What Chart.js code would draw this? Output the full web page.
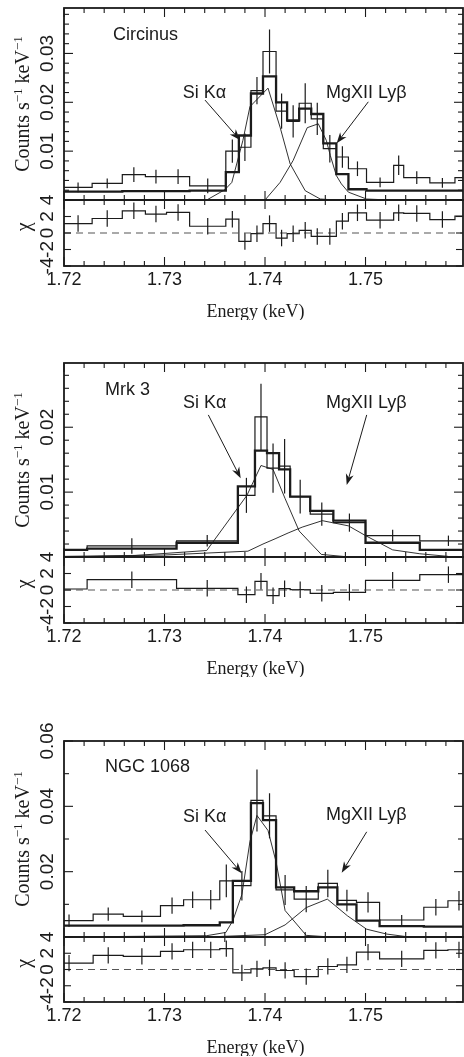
<!DOCTYPE html>
<html>
<head>
<meta charset="utf-8">
<script src="https://cdn.jsdelivr.net/npm/chart.js@4.4.1/dist/chart.umd.min.js"></script>
<style>
  html, body { margin: 0; padding: 0; background: #fff; overflow: hidden; }
  body { width: 464px; height: 1057px; position: relative; }
  canvas { position: absolute; left: 0; }
</style>
</head>
<body>
<canvas id="main1"></canvas><canvas id="res1"></canvas>
<canvas id="main2"></canvas><canvas id="res2"></canvas>
<canvas id="main3"></canvas><canvas id="res3"></canvas>
<script>
// energy axis (keV) and tick labels
const X_MIN = 1.72, X_MAX = 1.7597;
const xTickVals = [1.72, 1.73, 1.74, 1.75];
const xTickText = ['1.72', '1.73', '1.74', '1.75'];
const chiTickVals = [4, 2, 0, -2, -4];
const chiTickText = ['4', '2', '0', '-2', '-4'];
const CHI_ERR = 1;

// Circinus
const edges1 = [1.7200, 1.7228, 1.7258, 1.7281, 1.7302, 1.7325, 1.7361, 1.7374, 1.7386, 1.7398, 1.7411, 1.7422,
                1.7434, 1.7446, 1.7458, 1.7471, 1.7483, 1.7501, 1.7528, 1.7538, 1.7564, 1.7589, 1.7614];
const rate1  = [0.0026, 0.0034, 0.0052, 0.0048, 0.0048, 0.0029, 0.0100, 0.0108, 0.0224, 0.0304, 0.0182, 0.0161,
                0.0198, 0.0166, 0.0105, 0.0088, 0.0064, 0.0036, 0.0071, 0.0046, 0.0035, 0.0046];
const err1   = [0.0010, 0.0010, 0.0015, 0.0014, 0.0015, 0.0015, 0.0024, 0.0028, 0.0028, 0.0045, 0.0036, 0.0033,
                0.0041, 0.0033, 0.0028, 0.0022, 0.0015, 0.0010, 0.0020, 0.0013, 0.0010, 0.0013];
const model1 = [0.0017, 0.0017, 0.0018, 0.0018, 0.0018, 0.0019, 0.0057, 0.0132, 0.0218, 0.0253, 0.0200, 0.0163,
                0.0187, 0.0176, 0.0116, 0.0053, 0.0022, 0.0019, 0.0019, 0.0019, 0.0019, 0.0019];
const chi1   = [1.14, 1.76, 2.69, 2.29, 2.49, 0.82, 1.67, -1.02, -0.08, 1.14, -0.61, -0.08,
                0.33, -0.41, -0.41, 1.43, 2.45, 1.55, 2.45, 2.37, 1.63, 2.04];
const siE1 = [1.7342, 1.7360, 1.7367, 1.7378, 1.7385, 1.7403, 1.7415, 1.7425, 1.7440, 1.7455, 1.7470];
const siV1 = [0.0000, 0.0021, 0.0036, 0.0122, 0.0191, 0.0229, 0.0149, 0.0074, 0.0019, 0.0002, 0.0000];
const mgE1 = [1.7400, 1.7415, 1.7428, 1.7442, 1.7453, 1.7461, 1.7465, 1.7471, 1.7476, 1.7483, 1.7501, 1.7524];
const mgV1 = [0.0000, 0.0036, 0.0081, 0.0148, 0.0156, 0.0122, 0.0091, 0.0050, 0.0033, 0.0016, 0.0002, 0.0000];
const yTickVals1 = [0.01, 0.02, 0.03];
const yTickText1 = ['0.01', '0.02', '0.03'];

// Mrk 3
const edges2 = [1.7170, 1.7223, 1.7312, 1.7373, 1.7390, 1.7402, 1.7414, 1.7425, 1.7445, 1.7468, 1.7500, 1.7554, 1.7611];
const rate2  = [0.0011, 0.0017, 0.0025, 0.0095, 0.0216, 0.0137, 0.0140, 0.0093, 0.0066, 0.0053, 0.0033, 0.0025];
const err2   = [0.0008, 0.0012, 0.0009, 0.0027, 0.0051, 0.0038, 0.0042, 0.0026, 0.0018, 0.0014, 0.0009, 0.0008];
const model2 = [0.0011, 0.0013, 0.0022, 0.0109, 0.0164, 0.0160, 0.0135, 0.0093, 0.0071, 0.0056, 0.0022, 0.0011];
const chi2   = [0.12, 1.25, 0.20, -0.57, 1.05, -0.69, 0.16, 0.04, -0.40, -0.28, 1.17, 1.86];
const siE2 = [1.7200, 1.7268, 1.7342, 1.7382, 1.7396, 1.7408, 1.7420, 1.7434, 1.7456, 1.7484];
const siV2 = [0.0000, 0.0002, 0.0010, 0.0095, 0.0141, 0.0135, 0.0090, 0.0040, 0.0004, 0.0000];
const mgE2 = [1.7200, 1.7299, 1.7383, 1.7398, 1.7410, 1.7423, 1.7437, 1.7457, 1.7483, 1.7500, 1.7527, 1.7554, 1.7582];
const mgV2 = [0.0001, 0.0003, 0.0009, 0.0020, 0.0028, 0.0037, 0.0046, 0.0056, 0.0048, 0.0033, 0.0011, 0.0005, 0.0001];
const yTickVals2 = [0.01, 0.02];
const yTickText2 = ['0.01', '0.02'];

// NGC 1068
const edges3 = [1.7181, 1.7229, 1.7259, 1.7296, 1.7319, 1.7337, 1.7355, 1.7368, 1.7386, 1.7398, 1.7411, 1.7429,
                1.7453, 1.7472, 1.7491, 1.7514, 1.7558, 1.7582, 1.7604];
const rate3  = [0.0050, 0.0070, 0.0063, 0.0096, 0.0114, 0.0114, 0.0172, 0.0157, 0.0418, 0.0371, 0.0144, 0.0116,
                0.0164, 0.0112, 0.0106, 0.0052, 0.0091, 0.0111];
const err3   = [0.0019, 0.0020, 0.0018, 0.0025, 0.0025, 0.0030, 0.0050, 0.0045, 0.0095, 0.0069, 0.0046, 0.0040,
                0.0042, 0.0033, 0.0031, 0.0015, 0.0025, 0.0030];
const model3 = [0.0035, 0.0035, 0.0035, 0.0035, 0.0036, 0.0036, 0.0045, 0.0172, 0.0410, 0.0358, 0.0152, 0.0140,
                0.0152, 0.0100, 0.0050, 0.0033, 0.0032, 0.0032];
const chi3   = [0.78, 1.73, 1.61, 2.23, 2.43, 2.43, 2.56, -0.41, 0.08, 0.21, -0.12, -0.87,
                0.37, 0.58, 2.14, 1.32, 2.35, 2.43];
const siE3 = [1.7200, 1.7342, 1.7361, 1.7368, 1.7377, 1.7385, 1.7392, 1.7403, 1.7411, 1.7420, 1.7441, 1.7465];
const siV3 = [0.0000, 0.0004, 0.0014, 0.0050, 0.0130, 0.0292, 0.0372, 0.0326, 0.0230, 0.0081, 0.0005, 0.0000];
const mgE3 = [1.7342, 1.7400, 1.7420, 1.7441, 1.7462, 1.7482, 1.7501, 1.7521, 1.7541, 1.7597];
const mgV3 = [0.0000, 0.0007, 0.0037, 0.0090, 0.0116, 0.0065, 0.0024, 0.0009, 0.0001, 0.0000];
const yTickVals3 = [0.02, 0.04, 0.06];
const yTickText3 = ['0.02', '0.04', '0.06'];

const INK = '#1b1b1b';
const SANS = '"Liberation Sans", Arial, Helvetica, sans-serif';
const SERIF = '"Liberation Serif", "Times New Roman", serif';

// layout of the three panels (pixels) and label placement (data coords)
const panels = [
  { id: 1, mainTop: 8, mainBot: 200, resBot: 266, yMax: 0.0393, yMinor: 0.002, yMajor: 0.01,
    edges: edges1, rate: rate1, err: err1, model: model1, chi: chi1,
    si: [siE1, siV1], mg: [mgE1, mgV1], yt: [yTickVals1, yTickText1],
    name: ['Circinus', 1.72488, 0.0337],
    siLab: [1.73181, 0.0219], mgLab: [1.74607, 0.0219],
    siArrow: [1.73403, 0.02045, 1.73751, 0.01227], mgArrow: [1.75028, 0.0201, 1.74713, 0.0116] },
  { id: 2, mainTop: 363, mainBot: 557, resBot: 623, yMax: 0.0299, yMinor: 0.002, yMajor: 0.01,
    edges: edges2, rate: rate2, err: err2, model: model2, chi: chi2,
    si: [siE2, siV2], mg: [mgE2, mgV2], yt: [yTickVals2, yTickText2],
    name: ['Mrk 3', 1.72408, 0.02575],
    siLab: [1.73184, 0.02375], mgLab: [1.74607, 0.02375],
    siArrow: [1.73436, 0.0219, 1.73758, 0.01214], mgArrow: [1.75012, 0.0219, 1.74813, 0.0111] },
  { id: 3, mainTop: 741, mainBot: 937, resBot: 1002, yMax: 0.06, yMinor: 0.01, yMajor: 0.02,
    edges: edges3, rate: rate3, err: err3, model: model3, chi: chi3,
    si: [siE3, siV3], mg: [mgE3, mgV3], yt: [yTickVals3, yTickText3],
    name: ['NGC 1068', 1.72408, 0.0520],
    siLab: [1.73184, 0.0367], mgLab: [1.74607, 0.0373],
    siArrow: [1.73403, 0.03275, 1.73768, 0.0195], mgArrow: [1.75012, 0.0322, 1.74763, 0.0197] }
];

function stepPoints(edges, vals) {
  // a point at each lower bin edge plus the last upper edge; drawn with stepped 'before'
  const pts = vals.map((v, i) => ({ x: edges[i], y: v }));
  pts.push({ x: edges[edges.length - 1], y: vals[vals.length - 1] });
  return pts;
}
function linePoints(es, vs) {
  return es.map((e, i) => ({ x: e, y: vs[i] }));
}
function eachStep(min, max, step, major, fn) {
  for (let k = Math.ceil(min / step - 1e-6); k * step <= max + 1e-9; k++) {
    const v = k * step;
    const r = v / major;
    fn(v, Math.abs(r - Math.round(r)) < 1e-6);
  }
}
function rotatedRuns(ctx, x, y, runs) {
  ctx.save();
  ctx.translate(x, y);
  ctx.rotate(-Math.PI / 2);
  let total = 0;
  runs.forEach(r => { ctx.font = r.font; r.w = ctx.measureText(r.text).width; total += r.w; });
  let cx = -total / 2;
  ctx.textAlign = 'left';
  ctx.textBaseline = 'alphabetic';
  runs.forEach(r => { ctx.font = r.font; ctx.fillText(r.text, cx, -r.rise); cx += r.w; });
  ctx.restore();
}
function arrow(ctx, x1, y1, x2, y2) {
  const a = Math.atan2(y2 - y1, x2 - x1), c = Math.cos(a), s = Math.sin(a);
  const L = 11, W = 4;
  ctx.lineWidth = 1;
  ctx.beginPath();
  ctx.moveTo(x1, y1);
  ctx.lineTo(x2 - 0.7 * L * c, y2 - 0.7 * L * s);
  ctx.stroke();
  ctx.beginPath();
  ctx.moveTo(x2, y2);
  ctx.lineTo(x2 - L * c + W * s, y2 - L * s - W * c);
  ctx.lineTo(x2 - 0.7 * L * c, y2 - 0.7 * L * s);
  ctx.lineTo(x2 - L * c - W * s, y2 - L * s + W * c);
  ctx.closePath();
  ctx.fill();
}

function decor(cfg) {
  return {
    id: 'decor',
    afterDatasetsDraw(chart) {
      const ctx = chart.ctx;
      const xs = chart.scales.x, ys = chart.scales.y;
      const { left, right, top, bottom } = chart.chartArea;
      ctx.save();
      ctx.strokeStyle = INK;
      ctx.fillStyle = INK;

      // vertical error bars at bin centres
      ctx.save();
      ctx.beginPath();
      ctx.rect(left, top, right - left, bottom - top);
      ctx.clip();
      ctx.lineWidth = 1.2;
      cfg.vals.forEach((v, i) => {
        const e = Array.isArray(cfg.errs) ? cfg.errs[i] : cfg.errs;
        const px = xs.getPixelForValue((cfg.edges[i] + cfg.edges[i + 1]) / 2);
        ctx.beginPath();
        ctx.moveTo(px, ys.getPixelForValue(v - e));
        ctx.lineTo(px, ys.getPixelForValue(v + e));
        ctx.stroke();
      });
      ctx.restore();

      // inward ticks
      const seg = (a, b, c, d) => { ctx.beginPath(); ctx.moveTo(a, b); ctx.lineTo(c, d); ctx.stroke(); };
      ctx.lineWidth = 1.1;
      eachStep(X_MIN, X_MAX, 0.002, 0.01, (v, major) => {
        const px = xs.getPixelForValue(v), len = major ? 9 : 5;
        seg(px, top, px, top + len);
        seg(px, bottom, px, bottom - len);
      });
      eachStep(ys.min, ys.max, cfg.yMinor, cfg.yMajor, (v, major) => {
        const py = ys.getPixelForValue(v), len = major ? cfg.majLen : 5;
        seg(left, py, left + len, py);
        seg(right, py, right - len, py);
      });

      // frame
      ctx.lineWidth = 1.8;
      ctx.strokeRect(left, top, right - left, bottom - top);

      // rotated y tick labels
      ctx.font = '19px ' + SANS;
      ctx.textAlign = 'center';
      ctx.textBaseline = 'alphabetic';
      cfg.yTickVals.forEach((v, i) => {
        ctx.save();
        ctx.translate(left - 11, ys.getPixelForValue(v));
        ctx.rotate(-Math.PI / 2);
        ctx.fillText(cfg.yTickText[i], 0, 0);
        ctx.restore();
      });

      if (cfg.kind === 'main') {
        rotatedRuns(ctx, 29, (top + bottom) / 2, [
          { text: 'Counts s', font: '20px ' + SERIF, rise: 0 },
          { text: '\u22121', font: '13px ' + SERIF, rise: 7 },
          { text: ' keV', font: '20px ' + SERIF, rise: 0 },
          { text: '\u22121', font: '13px ' + SERIF, rise: 7 }
        ]);
        const p = cfg.panel;
        ctx.font = '18px ' + SANS;
        ctx.textAlign = 'left';
        ctx.textBaseline = 'middle';
        ctx.fillText(p.name[0], xs.getPixelForValue(p.name[1]), ys.getPixelForValue(p.name[2]));
        ctx.fillText('Si K\u03b1', xs.getPixelForValue(p.siLab[0]), ys.getPixelForValue(p.siLab[1]));
        ctx.fillText('MgXII Ly\u03b2', xs.getPixelForValue(p.mgLab[0]), ys.getPixelForValue(p.mgLab[1]));
        [p.siArrow, p.mgArrow].forEach(a => arrow(ctx,
          xs.getPixelForValue(a[0]), ys.getPixelForValue(a[1]),
          xs.getPixelForValue(a[2]), ys.getPixelForValue(a[3])));
      } else {
        rotatedRuns(ctx, 30, ys.getPixelForValue(0.75), [
          { text: '\u03c7', font: '20px ' + SERIF, rise: 0 }
        ]);
        ctx.font = '18px ' + SANS;
        ctx.textAlign = 'center';
        ctx.textBaseline = 'middle';
        xTickVals.forEach((v, i) => ctx.fillText(xTickText[i], xs.getPixelForValue(v), bottom + 14));
        ctx.font = '18px ' + SERIF;
        ctx.fillText('Energy (keV)', (left + right) / 2 - 8, bottom + 46);
      }
      ctx.restore();
    }
  };
}

function place(id, top, height) {
  const c = document.getElementById(id);
  c.width = 464;
  c.height = height;
  c.style.top = top + 'px';
  return c;
}

const common = {
  responsive: false,
  animation: false,
  events: [],
  plugins: { legend: { display: false }, tooltip: { enabled: false } }
};

panels.forEach(p => {
  const padTop = 24, padBot = 12;
  const mainCanvas = place('main' + p.id, p.mainTop - padTop, p.mainBot - p.mainTop + padTop + padBot);
  new Chart(mainCanvas, {
    type: 'line',
    data: {
      datasets: [
        { data: stepPoints(p.edges, p.model), stepped: 'before', borderColor: INK, borderWidth: 2.3, pointRadius: 0 },
        { data: stepPoints(p.edges, p.rate), stepped: 'before', borderColor: INK, borderWidth: 1.2, pointRadius: 0 },
        { data: linePoints(p.si[0], p.si[1]), borderColor: INK, borderWidth: 0.9, pointRadius: 0, tension: 0 },
        { data: linePoints(p.mg[0], p.mg[1]), borderColor: INK, borderWidth: 0.9, pointRadius: 0, tension: 0 }
      ]
    },
    options: Object.assign({}, common, {
      layout: { padding: { left: 64, right: 1, top: padTop, bottom: padBot } },
      scales: {
        x: { type: 'linear', min: X_MIN, max: X_MAX, display: false },
        y: { type: 'linear', min: 0, max: p.yMax, display: false }
      }
    }),
    plugins: [decor({ kind: 'main', panel: p, edges: p.edges, vals: p.rate, errs: p.err,
      yMinor: p.yMinor, yMajor: p.yMajor, majLen: 9, yTickVals: p.yt[0], yTickText: p.yt[1] })]
  });

  const rTop = 14, rBot = 54;
  const resCanvas = place('res' + p.id, p.mainBot - rTop, p.resBot - p.mainBot + rTop + rBot);
  new Chart(resCanvas, {
    type: 'line',
    data: {
      datasets: [
        { data: [{ x: X_MIN, y: 0 }, { x: X_MAX, y: 0 }], borderColor: '#555', borderWidth: 1.2,
          borderDash: [7, 5], pointRadius: 0 },
        { data: stepPoints(p.edges, p.chi), stepped: 'before', borderColor: INK, borderWidth: 1.2, pointRadius: 0 }
      ]
    },
    options: Object.assign({}, common, {
      layout: { padding: { left: 64, right: 1, top: rTop, bottom: rBot } },
      scales: {
        x: { type: 'linear', min: X_MIN, max: X_MAX, display: false },
        y: { type: 'linear', min: -4, max: 4, display: false }
      }
    }),
    plugins: [decor({ kind: 'res', panel: p, edges: p.edges, vals: p.chi, errs: CHI_ERR,
      yMinor: 2, yMajor: 2, majLen: 7, yTickVals: chiTickVals, yTickText: chiTickText })]
  });
});
</script>
</body>
</html>
